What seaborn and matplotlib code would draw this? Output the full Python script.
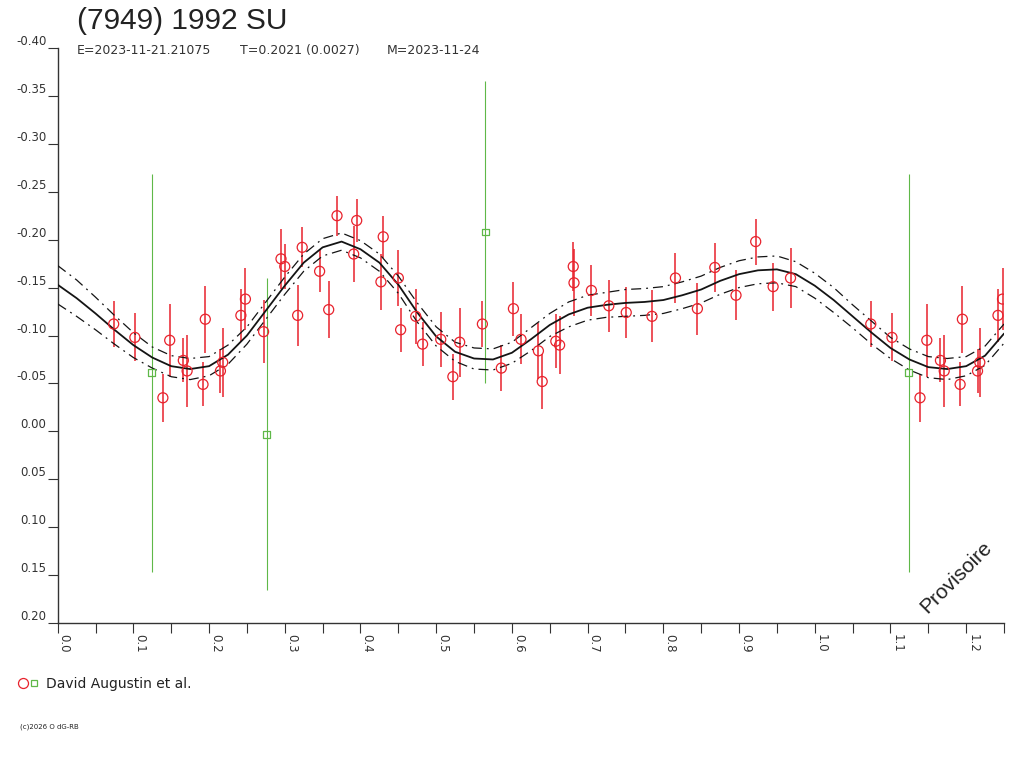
import numpy as np
import pandas as pd
import matplotlib
matplotlib.use("Agg")
import matplotlib.pyplot as plt
import seaborn as sns
from matplotlib.lines import Line2D

# measurements, David Augustin et al. (phase, reduced mag, error)
red_phase = [0.074, 0.102, 0.139, 0.148, 0.166, 0.171, 0.192, 0.195, 0.215, 0.218,
             0.242, 0.248, 0.272, 0.295, 0.300, 0.317, 0.323, 0.346, 0.358, 0.369,
             0.391, 0.395, 0.427, 0.430, 0.450, 0.453, 0.473, 0.482, 0.506, 0.522,
             0.531, 0.561, 0.586, 0.602, 0.612, 0.635, 0.640, 0.658, 0.663, 0.681,
             0.682, 0.705, 0.728, 0.751, 0.785, 0.816, 0.845, 0.868, 0.896, 0.922,
             0.945, 0.968]
red_mag = [-0.112, -0.098, -0.035, -0.095, -0.074, -0.063, -0.049, -0.117, -0.063, -0.072,
           -0.121, -0.138, -0.104, -0.180, -0.172, -0.121, -0.192, -0.167, -0.127, -0.225,
           -0.185, -0.220, -0.156, -0.203, -0.160, -0.106, -0.120, -0.091, -0.096, -0.057,
           -0.093, -0.112, -0.066, -0.128, -0.096, -0.084, -0.052, -0.094, -0.090, -0.172,
           -0.155, -0.147, -0.131, -0.124, -0.120, -0.160, -0.128, -0.171, -0.142, -0.198,
           -0.151, -0.160]
red_err = [0.024, 0.025, 0.025, 0.038, 0.023, 0.038, 0.023, 0.035, 0.023, 0.036,
           0.028, 0.032, 0.033, 0.031, 0.023, 0.032, 0.021, 0.022, 0.030, 0.021,
           0.029, 0.022, 0.029, 0.022, 0.029, 0.023, 0.029, 0.023, 0.029, 0.024,
           0.036, 0.024, 0.024, 0.028, 0.026, 0.029, 0.029, 0.028, 0.030, 0.026,
           0.035, 0.027, 0.027, 0.027, 0.027, 0.026, 0.027, 0.026, 0.026, 0.024,
           0.025, 0.031]

green_phase = [0.124, 0.276, 0.565]
green_mag = [-0.061, 0.003, -0.208]
green_err = [0.208, 0.163, 0.158]

# fitted lightcurve
curve_phase = [0.000, 0.025, 0.050, 0.075, 0.100, 0.125, 0.150, 0.175, 0.200, 0.225,
               0.250, 0.275, 0.300, 0.325, 0.350, 0.375, 0.400, 0.425, 0.450, 0.475,
               0.500, 0.525, 0.550, 0.575, 0.600, 0.625, 0.650, 0.675, 0.700, 0.725,
               0.750, 0.775, 0.800, 0.825, 0.850, 0.875, 0.900, 0.925, 0.950, 0.975,
               1.000, 1.025, 1.050, 1.075, 1.100, 1.125, 1.150, 1.175, 1.200, 1.225,
               1.250]
curve_mag = [-0.153, -0.139, -0.123, -0.106, -0.090, -0.077, -0.068, -0.065, -0.068, -0.080,
             -0.100, -0.126, -0.152, -0.176, -0.192, -0.198, -0.190, -0.176, -0.153, -0.124,
             -0.099, -0.083, -0.076, -0.075, -0.082, -0.096, -0.111, -0.122, -0.129, -0.132,
             -0.134, -0.135, -0.137, -0.142, -0.148, -0.157, -0.164, -0.168, -0.169, -0.164,
             -0.152, -0.137, -0.120, -0.103, -0.087, -0.075, -0.067, -0.065, -0.068, -0.079,
             -0.102]
curve_hw = [0.020, 0.019, 0.017, 0.015, 0.013, 0.011, 0.011, 0.011, 0.010, 0.010,
            0.009, 0.009, 0.009, 0.009, 0.009, 0.009, 0.009, 0.009, 0.009, 0.010,
            0.010, 0.010, 0.011, 0.011, 0.011, 0.012, 0.012, 0.013, 0.013, 0.013,
            0.014, 0.014, 0.014, 0.014, 0.014, 0.014, 0.014, 0.014, 0.014, 0.013,
            0.013, 0.013, 0.012, 0.012, 0.011, 0.011, 0.011, 0.011, 0.010, 0.010,
            0.010]

x_ticks = [0.0, 0.1, 0.2, 0.3, 0.4, 0.5, 0.6, 0.7, 0.8, 0.9, 1.0, 1.1, 1.2]
x_tick_labels = ["0.0", "0.1", "0.2", "0.3", "0.4", "0.5", "0.6", "0.7", "0.8",
                 "0.9", "1.0", "1.1", "1.2"]
x_minor = [0.05, 0.15, 0.25, 0.35, 0.45, 0.55, 0.65, 0.75, 0.85, 0.95, 1.05, 1.15, 1.25]
y_ticks = [-0.40, -0.35, -0.30, -0.25, -0.20, -0.15, -0.10, -0.05, 0.00, 0.05, 0.10, 0.15, 0.20]
y_tick_labels = ["-0.40", "-0.35", "-0.30", "-0.25", "-0.20", "-0.15", "-0.10", "-0.05",
                 "0.00", "0.05", "0.10", "0.15", "0.20"]

RED = "#e8222c"
GREEN = "#5fb848"
DARK = "#141414"
AXC = "#333333"


def with_repeat(ph, mag, err, xmax=1.25):
    df = pd.DataFrame({"phase": ph, "mag": mag, "err": err})
    rep = df[df["phase"] + 1 <= xmax].copy()
    rep["phase"] = rep["phase"] + 1
    return pd.concat([df, rep], ignore_index=True)


red_df = with_repeat(red_phase, red_mag, red_err)
green_df = with_repeat(green_phase, green_mag, green_err)
curve_df = pd.DataFrame({"phase": curve_phase, "mag": curve_mag, "hw": curve_hw})
curve_df["upper"] = curve_df["mag"] - curve_df["hw"]
curve_df["lower"] = curve_df["mag"] + curve_df["hw"]

sns.set_style("ticks")
plt.rcParams["font.family"] = ["DejaVu Sans"]
plt.rcParams["axes.unicode_minus"] = False

fig = plt.figure(figsize=(10.24, 7.68), dpi=100)
ax = fig.add_axes([0.0563, 0.1888, 0.9242, 0.7487])

# error bars
ax.errorbar(green_df["phase"], green_df["mag"], yerr=green_df["err"], fmt="none",
            ecolor=GREEN, elinewidth=0.8, capsize=0, zorder=2)
ax.errorbar(red_df["phase"], red_df["mag"], yerr=red_df["err"], fmt="none",
            ecolor=RED, elinewidth=1.1, capsize=0, zorder=2)

# fit and its uncertainty
sns.lineplot(data=curve_df, x="phase", y="mag", color=DARK, lw=1.3, ax=ax, zorder=3)
for col in ["upper", "lower"]:
    sns.lineplot(data=curve_df, x="phase", y=col, color=DARK, lw=0.9, ax=ax, zorder=3,
                 linestyle=(0, (8, 4, 1.5, 4)))

sns.scatterplot(data=red_df, x="phase", y="mag", marker="o", s=52, facecolor="none",
                edgecolor=RED, linewidth=0.9, ax=ax, zorder=4, legend=False)
sns.scatterplot(data=green_df, x="phase", y="mag", marker="s", s=24, facecolor="none",
                edgecolor=GREEN, linewidth=0.9, ax=ax, zorder=4, legend=False)

ax.set_xlim(0, 1.25)
ax.set_ylim(0.20, -0.40)
ax.set_xlabel("")
ax.set_ylabel("")
sns.despine(ax=ax)
for s in ["left", "bottom"]:
    ax.spines[s].set_color(AXC)
    ax.spines[s].set_linewidth(1.0)

ax.set_xticks(x_ticks, labels=x_tick_labels, rotation=-90, ha="left", va="top")
ax.set_xticks(x_minor, minor=True)
ax.set_yticks(y_ticks, labels=y_tick_labels, va="bottom")
ax.tick_params(axis="both", which="both", direction="out", length=7, width=0.8,
               color=AXC, labelsize=8.5, labelcolor=AXC)
ax.tick_params(axis="x", which="both", pad=1)
ax.tick_params(axis="y", pad=1)
ax.grid(False)

# header
fig.text(77 / 1024, 1 - 29 / 768, "(7949) 1992 SU", family="Liberation Sans",
         fontsize=21.5, color="#222222", va="baseline")
fig.text(77 / 1024, 1 - 54 / 768, "E=2023-11-21.21075", fontsize=9, color=AXC, va="baseline")
fig.text(240 / 1024, 1 - 54 / 768, "T=0.2021 (0.0027)", fontsize=9, color=AXC, va="baseline")
fig.text(387 / 1024, 1 - 54 / 768, "M=2023-11-24", fontsize=9, color=AXC, va="baseline")

# legend row
fig.add_artist(Line2D([22.7 / 1024], [1 - 683.3 / 768], marker="o", ms=7.2, mfc="none",
                      mec=RED, mew=0.9, transform=fig.transFigure))
fig.add_artist(Line2D([34.3 / 1024], [1 - 683.3 / 768], marker="s", ms=4.8, mfc="none",
                      mec=GREEN, mew=0.9, transform=fig.transFigure))
fig.text(45.7 / 1024, 1 - 688.3 / 768, "David Augustin et al.", fontsize=10,
         color="#222222", va="baseline")

fig.text(20 / 1024, 1 - 728.5 / 768, "(c)2026 O dG-RB", fontsize=5, color="#222222",
         va="baseline")

fig.text(956 / 1024, 1 - 577.5 / 768, "Provisoire", family="Liberation Sans", fontsize=15,
         color="#222222", rotation=45, ha="center", va="center", rotation_mode="anchor")

fig.savefig("out.png", dpi=100)
